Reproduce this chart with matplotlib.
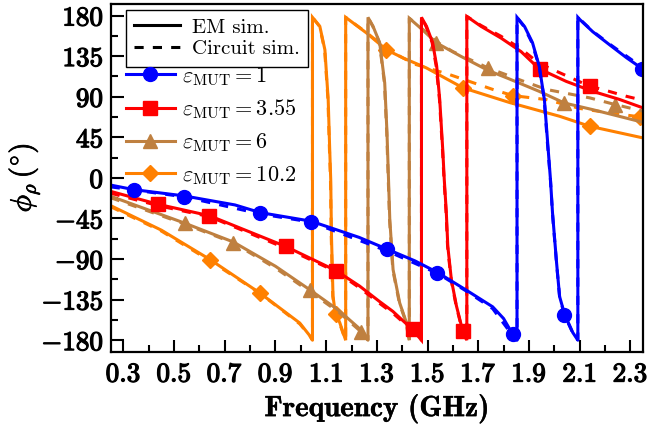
import matplotlib
matplotlib.use("Agg")
import matplotlib.pyplot as plt
import matplotlib.patheffects as pe
from matplotlib.lines import Line2D
import numpy as np

plt.rcParams['mathtext.fontset'] = 'cm'
plt.rcParams['axes.unicode_minus'] = False

# eps_MUT = 1
f_em_1 = [0.25, 0.34, 0.54, 0.74, 0.84, 1.04, 1.23, 1.34, 1.45, 1.54, 1.65, 1.757, 1.80, 1.836, 1.853,
          1.853, 1.883, 1.914, 1.941, 1.961, 1.973, 1.985, 1.993, 2.009, 2.021, 2.041, 2.073, 2.093,
          2.093, 2.101, 2.152, 2.219, 2.286, 2.35]
p_em_1 = [-8, -13, -20, -30, -38.5, -48, -66, -79, -92, -105, -124, -143, -156, -173.5, -180,
          178, 167.7, 150, 123.4, 86.8, 42.4, -2, -38.6, -94, -131.6, -151.6, -171.5, -180,
          178, 175.5, 162, 147.4, 133, 120.5]
f_ci_1 = [0.25, 0.54, 0.84, 1.04, 1.34, 1.54, 1.65, 1.757, 1.836, 1.853,
          1.853, 1.88, 1.91, 1.94, 1.96, 1.972, 1.985, 1.993, 2.009, 2.021, 2.04, 2.073, 2.093,
          2.093, 2.15, 2.22, 2.29, 2.35]
p_ci_1 = [-10, -21, -40, -49, -81, -106, -125, -145, -175, -180,
          178, 168, 151, 124, 88, 42, -3, -40, -95, -132, -152, -172, -180,
          178, 163, 148, 134, 122]
mk_em_f_1 = [0.34, 0.84, 1.34, 1.836, 2.345]
mk_em_p_1 = [-13, -38.5, -79, -173.5, 121]
mk_ci_f_1 = [0.54, 1.04, 1.536, 2.04]
mk_ci_p_1 = [-21, -48.8, -105, -152]

# eps_MUT = 3.55
f_em_2 = [0.25, 0.44, 0.64, 0.94, 1.14, 1.232, 1.31, 1.363, 1.44, 1.476,
          1.476, 1.496, 1.52, 1.536, 1.548, 1.56, 1.566, 1.574, 1.58, 1.594, 1.614, 1.639, 1.655,
          1.655, 1.711, 1.79, 1.869, 1.94, 2.047, 2.151, 2.257, 2.35]
p_em_2 = [-15, -29.5, -42, -76, -103, -120, -137, -148, -168, -180,
          178, 168, 150, 124, 87, 31, -2, -38, -76, -113, -142, -170, -180,
          179, 168, 155, 140, 121, 107, 96, 87, 77.6]
f_ci_2 = [0.25, 0.44, 0.64, 0.94, 1.14, 1.232, 1.31, 1.363, 1.44, 1.476,
          1.476, 1.494, 1.518, 1.534, 1.547, 1.559, 1.565, 1.573, 1.579, 1.593, 1.613, 1.638, 1.655,
          1.655, 1.711, 1.79, 1.869, 1.94, 2.03, 2.14, 2.19, 2.284, 2.35]
p_ci_2 = [-17, -31, -43, -78, -104, -122, -139, -150, -169, -180,
          178, 168, 150, 124, 87, 31, -2, -38, -76, -113, -142, -170, -180,
          179, 169, 157, 143, 127, 115.5, 101.6, 98, 90.5, 86]
mk_em_f_2 = [0.437, 0.94, 1.442, 1.942]
mk_em_p_2 = [-29.5, -76, -167.4, 121]
mk_ci_f_2 = [0.638, 1.138, 1.639, 2.14]
mk_ci_p_2 = [-42, -102.8, -170, 101.6]

# eps_MUT = 6
f_em_3 = [0.25, 0.54, 0.733, 0.9, 1.035, 1.15, 1.239, 1.265,
          1.265, 1.285, 1.311, 1.331, 1.34, 1.346, 1.351, 1.364, 1.39, 1.417, 1.423, 1.428,
          1.428, 1.481, 1.535, 1.63, 1.74, 1.82, 1.94, 2.04, 2.151, 2.35]
p_em_3 = [-20.4, -50, -71, -98, -124, -147, -169, -180,
          178, 168, 150, 105.3, 49.9, -2, -46, -101.7, -138.6, -160.8, -171.8, -180,
          177, 164, 149.7, 135, 119, 110, 96, 83, 75.7, 61.6]
f_ci_3 = [0.25, 0.54, 0.733, 0.9, 1.035, 1.15, 1.239, 1.265,
          1.265, 1.284, 1.310, 1.330, 1.339, 1.345, 1.350, 1.363, 1.389, 1.416, 1.422, 1.428,
          1.428, 1.48, 1.535, 1.60, 1.738, 1.88, 1.97, 2.14, 2.24, 2.35]
p_ci_3 = [-22, -51, -72, -100, -126, -149, -171, -180,
          178, 168, 150, 105, 50, -2, -46, -102, -139, -161, -172, -180,
          177, 165, 151, 140, 122, 107, 98, 88.7, 81.3, 74]
mk_em_f_3 = [0.543, 1.035, 1.535, 2.04]
mk_em_p_3 = [-50, -124, 149.7, 83]
mk_ci_f_3 = [0.733, 1.239, 1.738, 2.24]
mk_ci_p_3 = [-72, -171, 122, 81.3]

# eps_MUT = 10.2
f_em_4 = [0.25, 0.45, 0.642, 0.839, 0.996, 1.037, 1.046,
          1.046, 1.075, 1.095, 1.108, 1.114, 1.118, 1.121, 1.127, 1.134, 1.138, 1.154, 1.167, 1.177,
          1.177, 1.259, 1.338, 1.403, 1.495, 1.64, 1.824, 2.021, 2.14, 2.35]
p_em_4 = [-30.8, -58, -90.6, -127.8, -161, -175.6, -180,
          178, 168, 142, 86.8, 31.4, -1.9, -64.7, -131, -146, -150.6, -160.8, -171.8, -180,
          178, 160.7, 142, 133, 122, 99.8, 83.5, 68.3, 57.2, 44.3]
f_ci_4 = [0.25, 0.45, 0.642, 0.839, 0.996, 1.037, 1.046,
          1.046, 1.074, 1.094, 1.107, 1.113, 1.117, 1.120, 1.126, 1.133, 1.137, 1.153, 1.166, 1.177,
          1.177, 1.26, 1.338, 1.403, 1.45, 1.587, 1.758, 1.837, 1.969, 2.10, 2.218, 2.34]
p_ci_4 = [-32, -59, -92, -128, -162, -176, -180,
          178, 168, 142, 87, 31, -2, -65, -131, -146, -151, -161, -172, -180,
          178, 161, 143, 133, 126, 114.5, 98, 91.2, 86.8, 77, 72, 67.6]
mk_em_f_4 = [0.642, 1.138, 1.64, 2.14]
mk_em_p_4 = [-90.6, -150.6, 99.8, 57.2]
mk_ci_f_4 = [0.839, 1.338, 1.837, 2.34]
mk_ci_p_4 = [-127.8, 142, 91.2, 67.6]

labels = [r'$\varepsilon_{\mathrm{MUT}} = 1$', r'$\varepsilon_{\mathrm{MUT}} = 3.55$',
          r'$\varepsilon_{\mathrm{MUT}} = 6$', r'$\varepsilon_{\mathrm{MUT}} = 10.2$']
colors = ['#0000ff', '#ff0000', '#bf8040', '#ff8000']
markers = ['o', 's', '^', 'D']
msizes = [10, 10, 10, 8]

series = [
    (f_em_1, p_em_1, f_ci_1, p_ci_1, mk_em_f_1, mk_em_p_1, mk_ci_f_1, mk_ci_p_1),
    (f_em_2, p_em_2, f_ci_2, p_ci_2, mk_em_f_2, mk_em_p_2, mk_ci_f_2, mk_ci_p_2),
    (f_em_3, p_em_3, f_ci_3, p_ci_3, mk_em_f_3, mk_em_p_3, mk_ci_f_3, mk_ci_p_3),
    (f_em_4, p_em_4, f_ci_4, p_ci_4, mk_em_f_4, mk_em_p_4, mk_ci_f_4, mk_ci_p_4),
]

fig = plt.figure(figsize=(6.67, 4.24), dpi=100)
ax = fig.add_axes([0.166, 0.17, 0.798, 0.821])

lw = 2.2
for i in [3, 2, 1, 0]:
    fe, pe_, fc, pc, mef, mep, mcf, mcp = series[i]
    c = colors[i]
    ax.plot(fe, pe_, color=c, lw=lw, solid_joinstyle='miter')
    ax.plot(fc, pc, color=c, lw=lw, ls=(0, (3, 3)))
    ax.plot(mef, mep, ls='none', marker=markers[i], ms=msizes[i], color=c)
    ax.plot(mcf, mcp, ls='none', marker=markers[i], ms=msizes[i], color=c)

ax.set_xlim(0.25, 2.35)
ax.set_ylim(-193, 193)

bold = [pe.withStroke(linewidth=0.9, foreground='k')]

xt = np.round(np.arange(0.3, 2.31, 0.2), 1)
ax.set_xticks(xt)
ax.set_xticklabels([r'$\mathbf{%.1f}$' % v for v in xt])
ax.set_xticks(np.round(np.arange(0.4, 2.3, 0.2), 1), minor=True)
yt = np.arange(-180, 181, 45)
ax.set_yticks(yt)
ax.set_yticklabels([r'$\mathbf{%d}$' % v for v in yt])
ax.set_yticks(np.arange(-157.5, 180, 45), minor=True)

ax.tick_params(which='both', direction='in', labelsize=19.5, width=1.5)
ax.tick_params(which='major', length=9)
ax.tick_params(which='minor', length=5)
ax.tick_params(axis='x', pad=7)
ax.tick_params(axis='y', pad=5)
for lbl in ax.get_xticklabels() + ax.get_yticklabels():
    lbl.set_path_effects(bold)
for s in ax.spines.values():
    s.set_linewidth(1.6)

ax.set_xlabel('Frequency (GHz)', family='cmb10', fontsize=21, labelpad=5,
              path_effects=[pe.withStroke(linewidth=0.3, foreground='k')])
ax.set_ylabel(r'$\phi_{\rho}\,\mathbf{(}^{\circ}\mathbf{)}$', fontsize=21, labelpad=0,
              path_effects=[pe.withStroke(linewidth=0.6, foreground='k')])

h1 = [Line2D([], [], color='k', lw=lw), Line2D([], [], color='k', lw=lw, ls=(0, (3, 3)))]
leg1 = ax.legend(h1, ['EM sim.', 'Circuit sim.'], loc='upper left',
                 bbox_to_anchor=(0.029, 0.983), borderaxespad=0, fancybox=False,
                 edgecolor='k', framealpha=1, prop={'family': 'cmr10', 'size': 15},
                 handlelength=2.2, handletextpad=0.55, labelspacing=0.15,
                 borderpad=0.4)
leg1.get_frame().set_linewidth(1.0)
ax.add_artist(leg1)

h2 = [Line2D([], [], color=colors[i], lw=lw, marker=markers[i], ms=msizes[i]) for i in range(4)]
ax.legend(h2, labels, loc='upper left', bbox_to_anchor=(0.012, 0.85), borderaxespad=0,
          frameon=False, fontsize=16, handlelength=2.2, handletextpad=0.3, labelspacing=0.45)

fig.savefig('out.png', dpi=100)
